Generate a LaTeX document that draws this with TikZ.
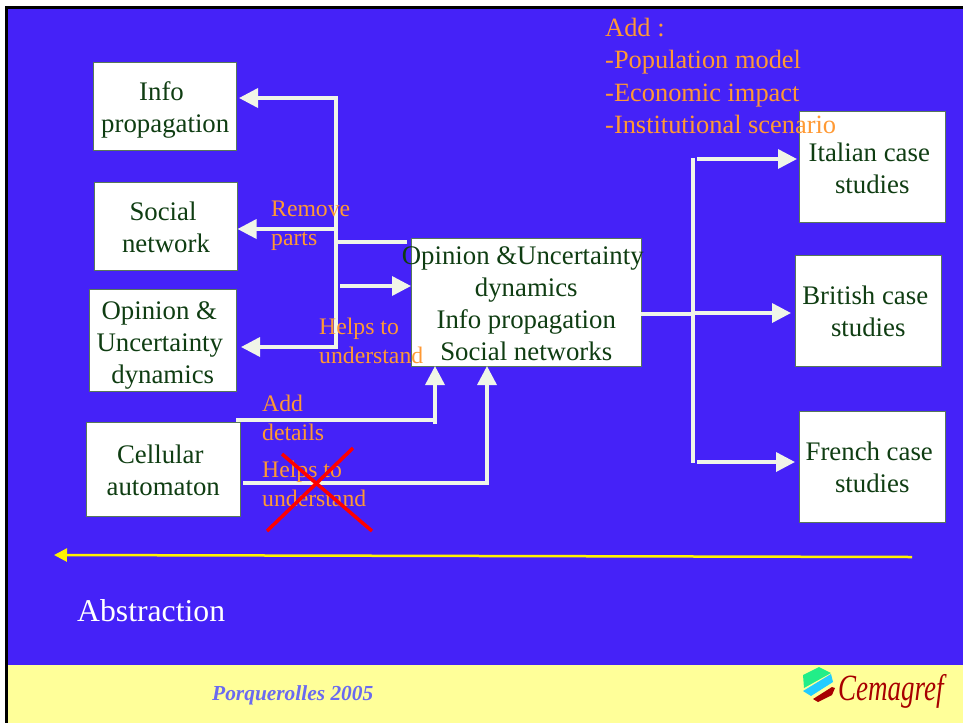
\documentclass[tikz,border=0pt]{standalone}
\usepackage{fontspec}
\setmainfont{Liberation Serif}
\usetikzlibrary{arrows.meta,calc}
\definecolor{slideblue}{HTML}{4522F8}
\definecolor{footyellow}{HTML}{FFFF99}
\definecolor{boxgreen}{HTML}{0F3D12}
\definecolor{arrowwhite}{HTML}{F0F5E8}
\definecolor{labelorange}{HTML}{FF9933}
\definecolor{footblue}{HTML}{6A6AF0}
\definecolor{logored}{HTML}{A80000}
\definecolor{logogreen}{HTML}{22EE88}
\definecolor{logocyan}{HTML}{22CCFF}
\tikzset{
  box/.style={draw=boxgreen!70!white,line width=1pt,fill=white,text=boxgreen,align=center,inner sep=0pt,outer sep=0pt,
    font=\fontsize{26.8}{32}\selectfont},
  conn/.style={draw=arrowwhite,line width=3.5pt},
  arrowconn/.style={conn,-{Triangle[length=19pt,width=19pt]}},
  note/.style={text=labelorange,align=left,inner sep=0pt,anchor=north west,
    font=\fontsize{23.7}{29}\selectfont},
  bignote/.style={note,font=\fontsize{26.4}{32.5}\selectfont},
  cross/.style={draw=red,line width=3.5pt},
}
% one text line of a box: shifted #1 px sideways and #2 px down, taking no width
\newcommand{\tline}[3]{\raisebox{\dimexpr -#2pt\relax}[\height][\depth]{\makebox[0pt]{\hspace*{\dimexpr #1pt*2\relax}#3}}}
\newcommand{\pxbox}[6]{\node[box,minimum width=#3 pt-#2 pt,minimum height=#5 pt-#4 pt,anchor=north west] (#1) at (#2,#4) {#6};}
\begin{document}
\begin{tikzpicture}[x=1pt,y=-1pt]
\useasboundingbox (0,0) rectangle (963,723);
\fill[white] (0,0) rectangle (963,723);
\fill[black] (5,6) rectangle (963,723);
\fill[slideblue] (7.5,8.5) rectangle (962.5,665);
\fill[footyellow] (7.5,665) rectangle (963,723);
% boxes
\pxbox{info}{93.5}{236}{62}{150.5}{\tline{-3.25}{4}{Info}\\\tline{0.5}{4}{propagation}}
\pxbox{social}{94.5}{237.5}{182}{270}{\tline{-3}{1}{Social}\\\tline{0}{1}{network}}
\pxbox{opinion}{89}{236}{289}{391}{\tline{-3.25}{5}{Opinion \&}\\\tline{-2.75}{5}{Uncertainty}\\\tline{0.25}{5}{dynamics}}
\pxbox{cell}{86}{240}{422}{516}{\tline{-2.75}{1}{Cellular}\\\tline{0.25}{1}{automaton}}
\pxbox{central}{411}{641}{238}{366}{\tline{-3.25}{1.5}{Opinion \&Uncertainty}\\\tline{0.25}{1.5}{dynamics}\\\tline{0.25}{1.5}{Info propagation}\\\tline{0.25}{1.5}{Social networks}}
\pxbox{italian}{799}{945}{111}{222}{\tline{-2.75}{1.5}{Italian case}\\\tline{0.25}{1.5}{studies}}
\pxbox{british}{795}{941}{255.5}{366}{\tline{-2.75}{1}{British case}\\\tline{0.25}{1}{studies}}
\pxbox{french}{799}{945}{411.5}{522}{\tline{-2.75}{1}{French case}\\\tline{0.25}{1}{studies}}
% left connectors
\coordinate (busTop) at (336,98);
\coordinate (busSocial) at (336,229);
\coordinate (busBottom) at (336,347);
\coordinate (busCentral) at (336,242);
\coordinate (feedStart) at (340,286);
\coordinate (addStart) at (236,420);
\coordinate (addCorner) at (435,420);
\coordinate (helpCorner) at (487,483);
\coordinate (helpStart) at (243,483);
\draw[conn,line cap=rect] (busTop) -- (busBottom);
\draw[arrowconn,shorten >=3pt] (busTop) -- (busTop -| info.east);
\draw[arrowconn] (busSocial) -- (busSocial -| social.east);
\draw[arrowconn,shorten >=5pt] (busBottom) -- (busBottom -| opinion.east);
\draw[conn,shorten >=4pt] (busCentral) -- (busCentral -| central.west);
\draw[arrowconn] (feedStart) -- (feedStart -| central.west);
\draw[conn] (addStart) -- ($(addCorner)+(1.5,0)$);
\draw[arrowconn] ($(addCorner)+(0,4)$) -- (addCorner |- central.south);
\draw[conn] (helpStart) -- ($(helpCorner)+(1.5,0)$);
\draw[arrowconn] (helpCorner) -- (helpCorner |- central.south);
% right connectors
\coordinate (rightBusTop) at (693,158);
\coordinate (rightBusBottom) at (693,463);
\coordinate (rightBusMid) at (693,314);
\coordinate (toItalian) at (697,159);
\coordinate (toBritish) at (693,313);
\coordinate (toFrench) at (697,462);
\draw[conn] (rightBusTop) -- (rightBusBottom);
\draw[conn] (central.east |- rightBusMid) -- (rightBusMid);
\draw[arrowconn,shorten >=2pt] (toItalian) -- (toItalian -| italian.west);
\draw[arrowconn,shorten >=4pt] (toBritish) -- (toBritish -| british.west);
\draw[arrowconn,shorten >=4pt] (toFrench) -- (toFrench -| french.west);
% abstraction arrow
\coordinate (absStart) at (912,557);
\coordinate (absEnd) at (54,555);
\draw[draw=yellow,line width=2.5pt,-{Triangle[length=13pt,width=13pt]}] (absStart) -- (absEnd);
% labels
\node[note] (remove) at (271,201) {Remove\\parts};
\node[note] (helpsa) at (319,318) {Helps to\\understand};
\node[note] (adddetails) at (262,395) {Add\\details};
\node[note] (helpsb) at (262,461) {Helps to\\understand};
\node[bignote] (addlist) at (605,17.5) {Add :\\-Population model\\-Economic impact\\-Institutional scenario};
% red cross
\coordinate (crossA) at (282,454);
\coordinate (crossB) at (372,531);
\coordinate (crossC) at (353,448);
\coordinate (crossD) at (267,531);
\draw[cross] (crossA) -- (crossB);
\draw[cross] (crossC) -- (crossD);
\node[text=white,inner sep=0pt,anchor=base west,font=\fontsize{31.7}{36}\selectfont] (abstraction) at (77,621) {Abstraction};
\node[text=footblue,inner sep=0pt,anchor=base west,font=\fontsize{21.4}{24}\selectfont\bfseries\itshape] (footer) at (212,700) {Porquerolles 2005};
% logo
\fill[logogreen] (803,675) -- (819,667) -- (831,673) -- (804,688) -- cycle;
\fill[logocyan] (831,674) -- (833,682) -- (811,696) -- (803,691) -- cycle;
\fill[logored] (832,687) -- (835,688) -- (832,695) -- (818,702) -- (813,699) -- cycle;
\node[text=logored,inner sep=0pt,anchor=base west,font=\fontsize{37}{40}\selectfont\itshape] (logo) at (838,700) {\scalebox{0.73}[1]{Cemagref}};
\end{tikzpicture}
\end{document}
